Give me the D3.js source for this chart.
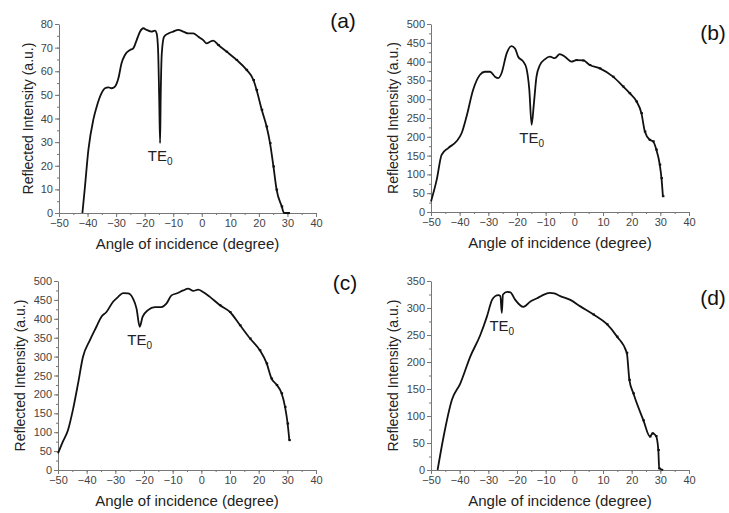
<!DOCTYPE html>
<html>
<head>
<meta charset="utf-8">
<script src="https://cdn.jsdelivr.net/npm/d3@7"></script>
<style>
  body { margin: 0; background: #fff; }
  svg { display: block; font-family: "Liberation Sans", Arial, sans-serif; }
  .tick text { fill: #444; font-size: 11px; }
  .domain, .tick line { stroke: #777; }
</style>
</head>
<body>
<script>
(function(){

    //angle values (degree) and reflected intensity
    var angleA = [-41.8,-40.9,-39.7,-38.0,-36.8,-35.1,-33.9,-32.7,-31.6,-30.4,-29.2,-28.1,-26.9,-25.1,-24.0,-22.8,-21.6,-20.5,-19.3,-17.6,-16.4,-15.8,-15.3,-14.9,-14.6,-14.4,-14.0,-13.2,-11.7,-10.0,-8.2,-6.5,-4.7,-3.0,-1.2,0.5,1.7,2.9,4.0,5.8,8.7,12.2,15.7,18.1,19.2,21.0,22.7,23.9,25.1,26.2,28.0,28.8,30.9];
    var intensA = [0,11.3,26.8,39.4,45,50.7,52.8,53.2,52.8,53.5,57,63.4,66.9,69,69.7,73.2,76.8,78.2,77.5,76.8,77.2,76,69,47.9,29.6,47.9,67.6,74.6,76,76.8,77.5,76.8,76,76,74.6,73.2,71.8,72.5,73,71.1,68.3,64.8,60.6,56.3,52.1,43.7,36.6,29.6,19.7,9.9,2.8,0,0];

    var angleB = [-50,-48.0,-46.3,-44.0,-41.1,-39.3,-37.6,-35.3,-32.9,-31.2,-29.4,-27.7,-26.5,-25.4,-23.6,-21.9,-20.7,-19.6,-17.8,-16.7,-15.7,-14.9,-14.1,-13.2,-12.0,-10.3,-8.5,-6.8,-5.1,-3.3,-1.0,0.7,3.1,5.4,8.9,13.5,17.0,19.3,21.7,23.4,24.6,26.3,27.5,28.6,29.8,30.4,30.9];
    var intensB = [28,86,152,170,188,210,254,325,365,373,373,360,356,369,422,441,435,413,400,382,325,232,289,360,391,406,413,409,420,413,400,404,403,391,382,360,334,316,294,263,214,192,188,166,126,90,42];

    var angleC = [-50,-48.3,-46.5,-44.8,-43.0,-41.3,-38.9,-36.6,-34.9,-33.1,-30.8,-29.0,-27.3,-25.5,-23.8,-22.6,-21.5,-20.5,-18.6,-16.2,-13.9,-12.2,-10.4,-8.7,-6.3,-4.6,-2.8,-1.1,0.6,3.0,6.5,10.0,13.5,17.0,20.4,22.8,24.5,26.3,28.0,29.2,30.1,30.7];
    var intensC = [44,75,106,159,229,299,343,379,405,418,445,458,468,467,453,427,379,405,423,431,431,440,462,467,475,480,474,477,471,458,436,418,383,348,317,282,242,225,203,167,123,79];

    var angleD = [-47.7,-45.6,-42.7,-39.8,-36.3,-32.8,-30.5,-28.7,-27.6,-26.5,-25.8,-25.3,-24.9,-23.4,-22.3,-20.6,-17.8,-15.3,-13.0,-11.3,-8.5,-7.0,-4.9,-1.4,2.1,6.7,11.4,14.9,18.3,19.2,20.6,24.1,26.4,27.3,28.5,29.3,29.6,31.0];
    var intensD = [0,62,130,160,210,250,284,315,322,324,322,291,325,330,329,315,302,312,318,323,328,327,322,315,303,288,270,247,217,167,142,92,62,68,63,37,3,0];

    //panel axis settings
    var xTicks = [-50,-40,-30,-20,-10,0,10,20,30,40];
    var yTicksA = [0,10,20,30,40,50,60,70,80];
    var yTicksB = [0,50,100,150,200,250,300,350,400,450,500];
    var yTicksC = [0,50,100,150,200,250,300,350,400,450,500];
    var yTicksD = [0,50,100,150,200,250,300,350];
    var panelNames = ["(a)", "(b)", "(c)", "(d)"];

    var width = 729,
        height = 513;

    var svg = d3.select("body")
        .append("svg")
        .attr("width", width)
        .attr("height", height);

    //plot frames for the four panels
    var panels = [
        {name: panelNames[0], x: angleA, y: intensA, yTicks: yTicksA, yStep: 5, left: 59, right: 316, top: 24, bottom: 213, yTitleX: 28, tagX: 343, tagY: 28, te: [-14.6, 29.6], dotFrom: 4},
        {name: panelNames[1], x: angleB, y: intensB, yTicks: yTicksB, yStep: 25, left: 431, right: 689, top: 24, bottom: 212, yTitleX: 393, tagX: 713, tagY: 40, te: [-14.9, 232], dotFrom: 0},
        {name: panelNames[2], x: angleC, y: intensC, yTicks: yTicksC, yStep: 25, left: 58, right: 316, top: 281, bottom: 470, yTitleX: 20, tagX: 345, tagY: 290, te: [-21.5, 379], dotFrom: 4},
        {name: panelNames[3], x: angleD, y: intensD, yTicks: yTicksD, yStep: 25, left: 431, right: 689, top: 281, bottom: 470, yTitleX: 393, tagX: 713, tagY: 305, te: [-25.3, 291], dotFrom: 4}
    ];

    panels.forEach(function(p){

        var yMax = p.yTicks[p.yTicks.length - 1];

        var x = d3.scaleLinear()
            .domain([-50, 40])
            .range([p.left, p.right]);

        var y = d3.scaleLinear()
            .domain([0, yMax])
            .range([p.bottom, p.top]);

        var g = svg.append("g");

        //minor ticks first, then the labelled axes on top
        g.append("g")
            .attr("transform", "translate(0," + p.bottom + ")")
            .call(d3.axisBottom(x).tickValues(d3.range(-50, 41, 5)).tickSize(2).tickFormat(""))
            .select(".domain").remove();

        g.append("g")
            .attr("transform", "translate(" + p.left + ",0)")
            .call(d3.axisLeft(y).tickValues(d3.range(0, yMax + 1, p.yStep)).tickSize(2).tickFormat(""))
            .select(".domain").remove();

        g.append("g")
            .attr("transform", "translate(0," + p.bottom + ")")
            .call(d3.axisBottom(x).tickValues(xTicks).tickSize(4).tickSizeOuter(0).tickPadding(2));

        g.append("g")
            .attr("transform", "translate(" + p.left + ",0)")
            .call(d3.axisLeft(y).tickValues(p.yTicks).tickSize(4).tickSizeOuter(0).tickPadding(2));

        //axis titles
        g.append("text")
            .attr("x", (p.left + p.right) / 2)
            .attr("y", p.bottom + 36)
            .attr("text-anchor", "middle")
            .attr("fill", "#222")
            .style("font-size", "15px")
            .text("Angle of incidence (degree)");

        g.append("text")
            .attr("transform", "translate(" + p.yTitleX + "," + ((p.top + p.bottom) / 2) + ") rotate(-90)")
            .attr("text-anchor", "middle")
            .attr("dy", "0.35em")
            .attr("fill", "#222")
            .style("font-size", "14px")
            .text("Reflected Intensity (a.u.)");

        //panel tag
        g.append("text")
            .attr("x", p.tagX)
            .attr("y", p.tagY)
            .attr("text-anchor", "middle")
            .attr("fill", "#111")
            .style("font-size", "21px")
            .text(p.name);

        //measured curve
        var pts = p.x.map(function(v, i){ return [v, p.y[i]]; });

        var line = d3.line()
            .x(function(d){ return x(d[0]); })
            .y(function(d){ return y(d[1]); })
            .curve(d3.curveMonotoneX);

        g.append("path")
            .datum(pts)
            .attr("fill", "none")
            .attr("stroke", "#111")
            .attr("stroke-width", 1.8)
            .attr("d", line);

        //small point markers on the falling side
        g.selectAll(".pt")
            .data(pts.filter(function(d){ return d[0] > p.dotFrom && d[1] > 0; }))
            .enter()
            .append("rect")
            .attr("x", function(d){ return x(d[0]) - 1; })
            .attr("y", function(d){ return y(d[1]) - 1; })
            .attr("width", 2.5)
            .attr("height", 2)
            .attr("fill", "#111");

        //TE0 mode label under the dip
        var te = g.append("text")
            .attr("x", x(p.te[0]))
            .attr("y", y(p.te[1]) + 18)
            .attr("text-anchor", "middle")
            .attr("fill", "#222")
            .style("font-size", "15px");
        te.append("tspan").text("TE");
        te.append("tspan")
            .attr("dy", 4)
            .style("font-size", "10px")
            .text("0");
    });

})();
</script>
</body>
</html>
